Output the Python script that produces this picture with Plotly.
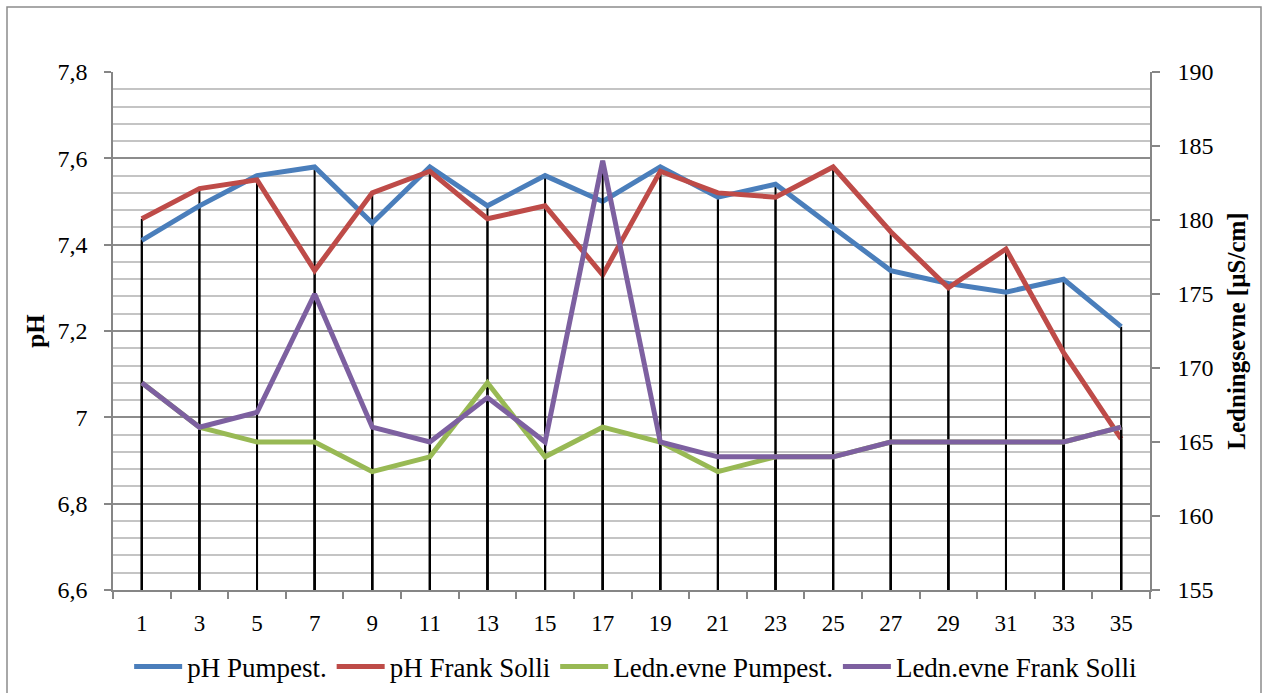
import plotly.graph_objects as go

# Sample numbers along the x axis
samples = [str(n) for n in range(1, 36, 2)]

# pH readings
ph_pumpest = [7.41, 7.49, 7.56, 7.58, 7.45, 7.58, 7.49, 7.56, 7.50, 7.58,
              7.51, 7.54, 7.44, 7.34, 7.31, 7.29, 7.32, 7.21]
ph_frank_solli = [7.46, 7.53, 7.55, 7.34, 7.52, 7.57, 7.46, 7.49, 7.33, 7.57,
                  7.52, 7.51, 7.58, 7.43, 7.30, 7.39, 7.15, 6.95]

# Conductivity readings [µS/cm]
ledn_pumpest = [169, 166, 165, 165, 163, 164, 169, 164, 166, 165,
                163, 164, 164, 165, 165, 165, 165, 166]
ledn_frank_solli = [169, 166, 167, 175, 166, 165, 168, 165, 184, 165,
                    164, 164, 164, 165, 165, 165, 165, 166]

PH_RANGE = [6.6, 7.8]
LEDN_RANGE = [155, 190]

BLUE = "#4A7EBB"
RED = "#BE4B48"
GREEN = "#98B954"
PURPLE = "#7D60A0"
FONT = "Liberation Serif, Times New Roman, serif"

fig = go.Figure()


def drop_lines(values, base, yaxis):
    xs, ys = [], []
    for s, v in zip(samples, values):
        xs += [s, s, None]
        ys += [base, v, None]
    return go.Scatter(x=xs, y=ys, mode="lines", yaxis=yaxis,
                      line=dict(color="black", width=2),
                      showlegend=False, hoverinfo="skip")


# pH series on the left axis
fig.add_trace(drop_lines(ph_pumpest, PH_RANGE[0], "y"))
fig.add_trace(drop_lines(ph_frank_solli, PH_RANGE[0], "y"))
fig.add_trace(go.Scatter(x=samples, y=ph_pumpest, name="pH Pumpest.",
                         mode="lines", line=dict(color=BLUE, width=5)))
fig.add_trace(go.Scatter(x=samples, y=ph_frank_solli, name="pH Frank Solli",
                         mode="lines", line=dict(color=RED, width=5)))

# Conductivity series on the right axis
fig.add_trace(drop_lines(ledn_pumpest, LEDN_RANGE[0], "y2"))
fig.add_trace(drop_lines(ledn_frank_solli, LEDN_RANGE[0], "y2"))
fig.add_trace(go.Scatter(x=samples, y=ledn_pumpest, name="Ledn.evne Pumpest.",
                         mode="lines", yaxis="y2",
                         line=dict(color=GREEN, width=5)))
fig.add_trace(go.Scatter(x=samples, y=ledn_frank_solli,
                         name="Ledn.evne Frank Solli", mode="lines", yaxis="y2",
                         line=dict(color=PURPLE, width=5)))

fig.update_layout(
    width=1264, height=693,
    margin=dict(l=113, r=114, t=72, b=103, autoexpand=False),
    paper_bgcolor="white", plot_bgcolor="white",
    font=dict(family=FONT, color="black", size=20),
    xaxis=dict(
        type="category", categoryorder="array", categoryarray=samples,
        range=[-0.5, len(samples) - 0.5], automargin=False,
        tickson="boundaries", ticks="outside", ticklen=7, tickcolor="#868686",
        tickwidth=1.5,
        showline=True, linecolor="#868686", linewidth=1.5,
        showgrid=False, zeroline=False,
        tickfont=dict(family=FONT, size=23), ticklabelstandoff=12,
    ),
    yaxis=dict(
        range=PH_RANGE, dtick=0.2, tick0=6.6, automargin=False,
        ticks="outside", ticklen=7, tickcolor="#868686", tickwidth=1.5,
        showline=True, linecolor="#868686", linewidth=1.5,
        showgrid=True, gridcolor="#8C8C8C", gridwidth=1.5,
        minor=dict(dtick=0.04, showgrid=True, gridcolor="#C4C4C4",
                   gridwidth=1.5),
        zeroline=False,
        tickfont=dict(family=FONT, size=24), ticklabelstandoff=12,
        title=dict(text="<b>pH</b>", font=dict(family=FONT, size=25),
                   standoff=6),
    ),
    yaxis2=dict(
        range=LEDN_RANGE, dtick=5, tick0=155, automargin=False,
        overlaying="y", side="right",
        ticks="outside", ticklen=8, tickcolor="#868686", tickwidth=1.5,
        showline=True, linecolor="#868686", linewidth=1.5,
        showgrid=False, zeroline=False,
        tickfont=dict(family=FONT, size=24), ticklabelstandoff=13,
        title=dict(text="<b>Ledningsevne [µS/cm]</b>",
                   font=dict(family=FONT, size=25), standoff=15),
    ),
    separators=", ",
    legend=dict(
        orientation="h", x=0.504, xanchor="center",
        yref="container", y=(693 - 667) / 693, yanchor="middle",
        font=dict(family=FONT, size=27), itemwidth=48,
        bgcolor="rgba(0,0,0,0)",
    ),
    shapes=[dict(type="rect", xref="paper", yref="paper",
                 x0=(7 - 113) / 1037, x1=(1261 - 113) / 1037,
                 y0=(590 - 700) / 518, y1=(590 - 7) / 518,
                 line=dict(color="#8C8C8C", width=1.5), layer="below")],
)

fig.write_html("out.html")
